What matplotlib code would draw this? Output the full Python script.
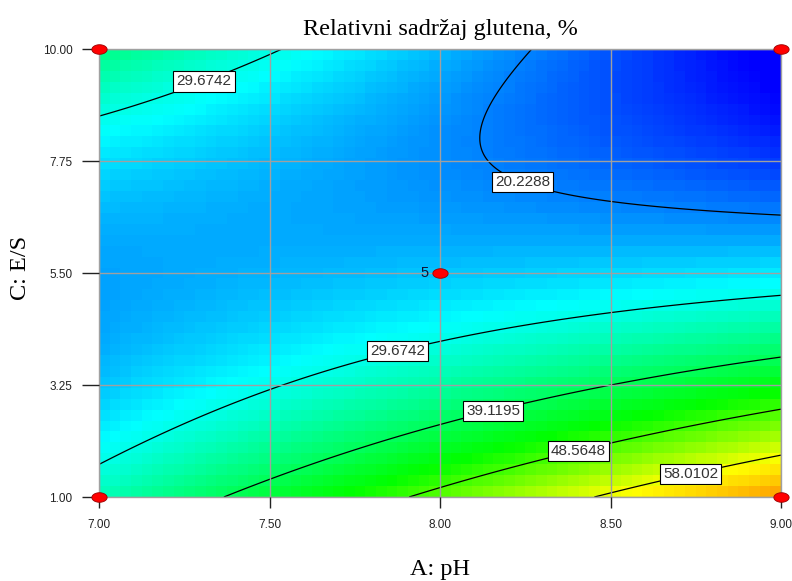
import numpy as np
import matplotlib
matplotlib.use('Agg')
import matplotlib.pyplot as plt
from matplotlib.colors import LinearSegmentedColormap
from matplotlib.path import Path

# faktori i opseg
ph_min, ph_max = 7.0, 9.0
es_min, es_max = 1.0, 10.0
x_ticks = [7.00, 7.50, 8.00, 8.50, 9.00]
y_ticks = [1.00, 3.25, 5.50, 7.75, 10.00]

# model u kodiranim jedinicama: 1, A, C, AC, A^2, C^2
coef = [24.48, 2.248, -13.22, -15.14, -0.002, 12.44]

# nivoi kontura i pozicije oznaka (pH, E/S)
levels = [20.2288, 29.6742, 39.1195, 48.5648, 58.0102]
label_pos = [(7.30, 9.49), (8.25, 7.47), (7.87, 4.10), (8.15, 2.89), (8.40, 2.10), (8.73, 1.62)]

# tacke dizajna
design_ph = [7.0, 7.0, 9.0, 9.0, 8.0]
design_es = [1.0, 10.0, 1.0, 10.0, 5.5]
center_reps = 5


def model(ph, es):
    a = (ph - 8.0) / 1.0
    c = (es - 5.5) / 4.5
    return coef[0] + coef[1]*a + coef[2]*c + coef[3]*a*c + coef[4]*a**2 + coef[5]*c**2


# skala boja plavo-cijan-zeleno-zuto-crveno
vmin, vmax = 12, 80
stops = [12, 28, 45, 59, 80]
cols = ['#0000ff', '#00ffff', '#00ff00', '#ffff00', '#ff0000']
cmap = LinearSegmentedColormap.from_list('de', [((s - vmin)/(vmax - vmin), c) for s, c in zip(stops, cols)])

fig = plt.figure(figsize=(7.92, 5.81), dpi=100)
ax = fig.add_axes([99/792, 1-497/581, 682/792, 448/581])

# grube celije (pikselizovano kao u originalu)
nx, ny = 64, 41
xe = np.linspace(ph_min, ph_max, nx+1)
ye = np.linspace(es_min, es_max, ny+1)
xc = (xe[:-1] + xe[1:]) / 2
yc = (ye[:-1] + ye[1:]) / 2
XC, YC = np.meshgrid(xc, yc)
ax.pcolormesh(xe, ye, model(XC, YC), cmap=cmap, vmin=vmin, vmax=vmax, shading='flat')

# konture na finoj mrezi
xf = np.linspace(ph_min, ph_max, 300)
yf = np.linspace(es_min, es_max, 300)
XF, YF = np.meshgrid(xf, yf)
cs = ax.contour(XF, YF, model(XF, YF), levels=levels, colors='black', linewidths=0.9)
lbls = ax.clabel(cs, manual=label_pos, inline=False, fmt='%.4f', fontsize=11)
for t in lbls:
    t.set_rotation(0)
    t.set_family('Liberation Sans')
    t.set_color('#333333')
    t.set_zorder(6)
    t.set_bbox(dict(boxstyle='square,pad=0.2', fc='white', ec='black', lw=0.8))

# mreza i ose
ax.set_xlim(ph_min, ph_max)
ax.set_ylim(es_min, es_max)
ax.set_xticks(x_ticks)
ax.set_yticks(y_ticks)
ax.set_xticklabels([f'{v:.2f}' for v in x_ticks])
ax.set_yticklabels([f'{v:.2f}' for v in y_ticks])
ax.grid(True, color='#a0a0a0', lw=1)
ax.set_axisbelow(False)
for s in ax.spines.values():
    s.set_color('#a0a0a0')
    s.set_linewidth(1)
ax.tick_params(axis='x', length=8, width=1, color='#222222', pad=8, labelsize=8.5, labelcolor='#222222')
ax.tick_params(axis='y', length=12, width=1, color='#222222', pad=7, labelsize=8.5, labelcolor='#222222')
for t in ax.get_xticklabels() + ax.get_yticklabels():
    t.set_family('Liberation Sans')

# tacke dizajna (elipse)
th = np.linspace(0, 2*np.pi, 60)
ell = Path(np.column_stack([1.6*np.cos(th), np.sin(th)]))
ax.plot(design_ph, design_es, ls='none', marker=ell, ms=11, mfc='#ff0000', mec='#990000', mew=0.6,
        clip_on=False, zorder=10)
ax.annotate(str(center_reps), (design_ph[-1], design_es[-1]), xytext=(-8, 0), textcoords='offset points',
            ha='right', va='center', fontsize=10.5, family='Liberation Sans', color='#111133', zorder=11)

ax.set_title('Relativni sadržaj glutena, %', family='Liberation Serif', fontsize=17.5, pad=10)
fig.text(440/792, 1-569/581, 'A: pH', family='Liberation Serif', fontsize=17.5, ha='center', va='center')
fig.text(21/792, 1-268/581, 'C: E/S', family='Liberation Serif', fontsize=17.5, ha='center', va='center',
         rotation=90)

fig.savefig('out.png', dpi=100)
